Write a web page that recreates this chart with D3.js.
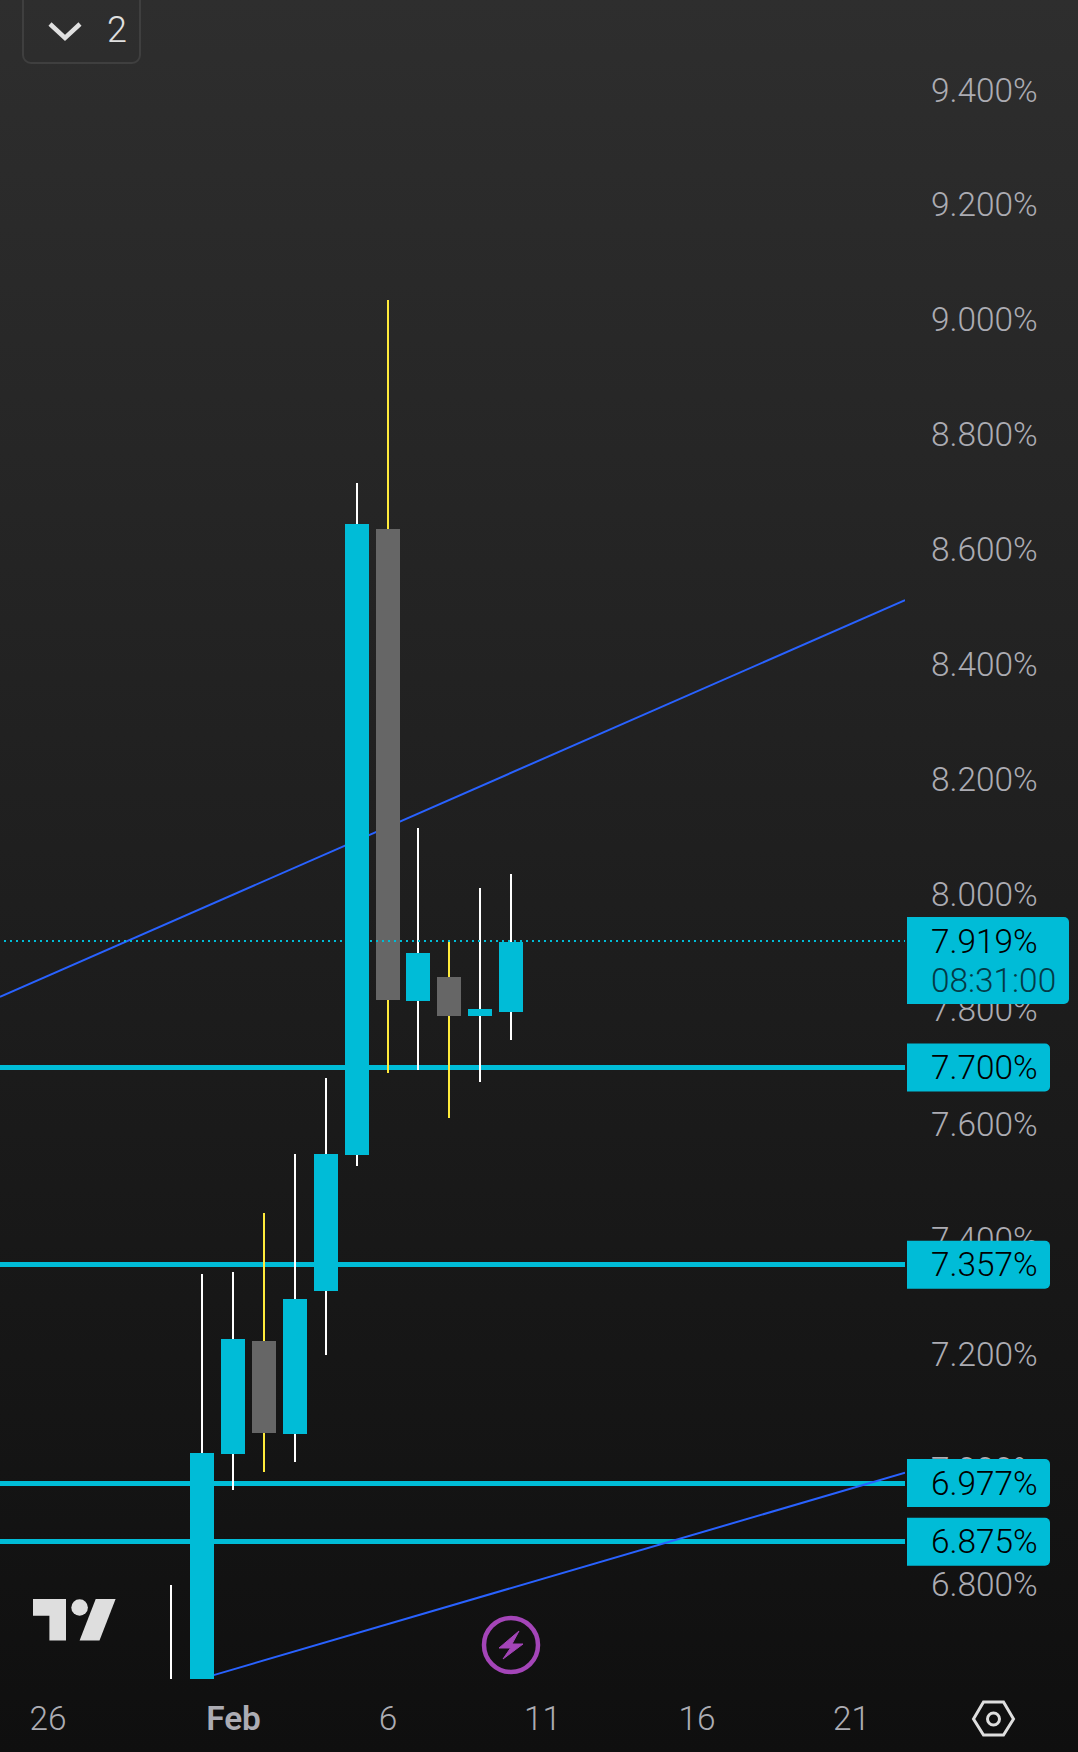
<!DOCTYPE html>
<html><head><meta charset="utf-8">
<style>html,body{margin:0;padding:0;background:#111}svg{display:block}text{font-family:Roboto,sans-serif}</style>
<script src="https://cdn.jsdelivr.net/npm/d3@7/dist/d3.min.js"></script>
</head><body><svg id="c" width="1078" height="1752"></svg>
<script>
const dates=["2025-01-30","2025-01-31","2025-02-01","2025-02-02","2025-02-03","2025-02-04","2025-02-05","2025-02-06","2025-02-07","2025-02-08","2025-02-09","2025-02-10"];
const opens =[6.50,6.50,7.028,7.224,7.062,7.311,7.548,8.636,7.815,7.857,7.789,7.796];
const closes=[6.55,7.029,7.228,7.064,7.297,7.549,8.645,7.817,7.900,7.789,7.801,7.919];
const highs =[6.800,7.340,7.344,7.447,7.549,7.681,8.716,9.035,8.116,7.919,8.012,8.036];
const lows  =[6.45,6.45,6.965,6.996,7.014,7.200,7.528,7.690,7.695,7.612,7.674,7.748];
const levels=[7.700,7.357,6.977,6.875];
const lastPrice=7.919, countdown="08:31:00";
const priceTicks=[6.8,7.0,7.2,7.4,7.6,7.8,8.0,8.2,8.4,8.6,8.8,9.0,9.2,9.4];
const timeTicks=["2025-01-26","2025-02-01","2025-02-06","2025-02-11","2025-02-16","2025-02-21"];
const trendUp=[["2025-01-24T11:00",7.823],["2025-02-22T18:00",8.513]];
const trendDown=[["2025-01-31T09:00",6.643],["2025-02-22T18:00",6.995]];

const W=1078,H=1752,paneR=905,paneB=1679;
const t=s=>new Date(s.length>10?s+"Z":s+"T00:00Z");
const x=d3.scaleUtc().domain([t("2025-02-01"),t("2025-02-21")]).range([233,851]);
const y=d3.scaleLinear().domain([7.7,9.4]).range([1067.5,90.3]);
const svg=d3.select("#c");
const defs=svg.append("defs");
const g=defs.append("linearGradient").attr("id","bg").attr("x1",0).attr("x2",0).attr("y1",0).attr("y2",1);
g.append("stop").attr("offset",0).attr("stop-color","#2e2e2e");
g.append("stop").attr("offset",1).attr("stop-color","#0f0f0f");
defs.append("clipPath").attr("id","pane").append("rect").attr("width",paneR).attr("height",paneB);
svg.append("rect").attr("width",W).attr("height",H).attr("fill","url(#bg)");

const CY="#00bcd7",BLUE="#2962ff",YEL="#ffeb3b",GREY="#666666",TXT="#acacb3";
const FS=33.4;

// price axis
const ya=d3.axisRight(y).tickValues(priceTicks).tickFormat(d=>d.toFixed(3)+"%").tickSize(0).tickPadding(0);
const yg=svg.append("g").attr("transform","translate(931,0)").call(ya);
yg.select(".domain").remove();
yg.selectAll("text").attr("fill",TXT).attr("font-size",FS).attr("font-weight",300).attr("font-family","Roboto");
// time axis
const xa=d3.axisBottom(x).tickValues(timeTicks.map(t)).tickFormat(d=>d.getUTCDate()===1?"Feb":String(d.getUTCDate())).tickSize(0).tickPadding(0);
const xg=svg.append("g").attr("transform","translate(0,1706)").call(xa);
xg.select(".domain").remove();
xg.selectAll("text").attr("fill",TXT).attr("font-size",FS).attr("dy","0.71em")
  .attr("font-weight",d=>d.getUTCDate()===1?600:300).attr("font-family","Roboto");

const pane=svg.append("g").attr("clip-path","url(#pane)");
// level lines
pane.selectAll(".lvl").data(levels).join("line").attr("x1",0).attr("x2",paneR)
  .attr("y1",d=>y(d)).attr("y2",d=>y(d)).attr("stroke",CY).attr("stroke-width",5).attr("shape-rendering","crispEdges");
// trend lines
[trendUp,trendDown].forEach(l=>pane.append("line")
  .attr("x1",x(t(l[0][0]))).attr("y1",y(l[0][1])).attr("x2",x(t(l[1][0]))).attr("y2",y(l[1][1]))
  .attr("stroke",BLUE).attr("stroke-width",2));
// candles
const rows=dates.map((d,i)=>({d:t(d),o:opens[i],c:closes[i],h:highs[i],l:lows[i]}));
const bw=24;
pane.selectAll(".w").data(rows).join("line").attr("x1",d=>x(d.d)).attr("x2",d=>x(d.d))
  .attr("y1",d=>y(d.h)).attr("y2",d=>y(d.l)).attr("stroke-width",2).attr("shape-rendering","crispEdges")
  .attr("stroke",d=>d.c>=d.o?"#ffffff":YEL);
pane.selectAll(".b").data(rows).join("rect").attr("x",d=>x(d.d)-bw/2).attr("width",bw)
  .attr("y",d=>y(Math.max(d.o,d.c))).attr("height",d=>Math.abs(y(d.o)-y(d.c))).attr("shape-rendering","crispEdges")
  .attr("fill",d=>d.c>=d.o?CY:GREY);
// last price dotted
pane.append("line").attr("x1",4).attr("x2",paneR).attr("y1",y(lastPrice)-0.6).attr("y2",y(lastPrice)-0.6)
  .attr("stroke",CY).attr("stroke-width",2).attr("stroke-dasharray","2 4").attr("shape-rendering","crispEdges");

// level labels
const tag=(top,h,w)=>`M907 ${top}H${907+w-5}a5 5 0 0 1 5 5V${top+h-5}a5 5 0 0 1 -5 5H907Z`;
levels.forEach(v=>{
  const c=y(v);
  svg.append("path").attr("d",tag(c-24,48,143)).attr("fill",CY);
  svg.append("text").attr("x",931).attr("y",c).attr("dy","0.35em").attr("font-size",FS).attr("font-weight",300).attr("fill","#000").text(v.toFixed(3)+"%");
});
const lc=y(lastPrice);
svg.append("path").attr("d",tag(lc-24.6,87,162)).attr("fill",CY);
svg.append("text").attr("x",931).attr("y",lc).attr("dy","0.35em").attr("font-size",FS).attr("font-weight",300).attr("fill","#000").text(lastPrice.toFixed(3)+"%");
svg.append("text").attr("x",931).attr("y",lc+39).attr("dy","0.35em").attr("font-size",FS).attr("font-weight",300).attr("fill","#043a47").text(countdown);

// logo
const logo=svg.append("g").attr("fill","#dedede");
logo.append("path").attr("d","M33 1599H66V1640.5H49.4V1615.7H33Z");
logo.append("circle").attr("cx",79.6).attr("cy",1607.5).attr("r",8.3);
logo.append("path").attr("d","M95.7 1599H115.6L99.5 1640.5H79.6Z");
// bolt
svg.append("circle").attr("cx",511).attr("cy",1645).attr("r",27).attr("fill","none").attr("stroke","#a445b8").attr("stroke-width",4.5);
svg.append("path").attr("d","M519 1631L499 1648H510.5L503 1659L523 1644H512Z").attr("fill","#a445b8").attr("stroke","#a445b8").attr("stroke-width",1);
// settings hex
svg.append("path").attr("d","M973.5 1719L983.5 1702H1003.5L1013.5 1719L1003.5 1735H983.5Z").attr("fill","none").attr("stroke","#dedede").attr("stroke-width",3);
svg.append("circle").attr("cx",993.5).attr("cy",1719).attr("r",6).attr("fill","none").attr("stroke","#dedede").attr("stroke-width",3);
// button
svg.append("rect").attr("x",23).attr("y",-12).attr("width",117).attr("height",75).attr("rx",8).attr("fill","none").attr("stroke","#3f3f3f").attr("stroke-width",2);
svg.append("path").attr("d","M50 24L65 38L80 24").attr("fill","none").attr("stroke","#e0e0e0").attr("stroke-width",4.5);
svg.append("text").attr("x",107).attr("y",29).attr("dy","0.35em").attr("font-size",36).attr("font-weight",300).attr("fill","#e0e0e0").text("2");
</script></body></html>
